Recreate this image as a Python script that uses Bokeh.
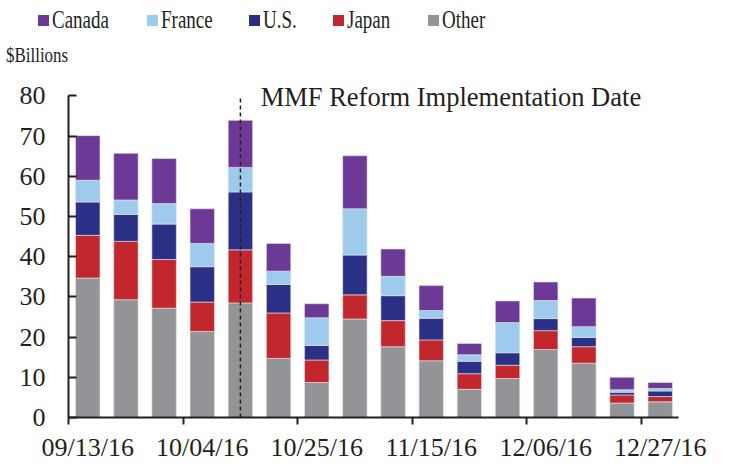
from bokeh.plotting import figure
from bokeh.models import (Range1d, FixedTicker, Label, ColumnDataSource, Div)
from bokeh.layouts import column
from bokeh.embed import file_html
from bokeh.resources import INLINE

dates = ["09/13/16", "09/20/16", "09/27/16", "10/04/16", "10/11/16", "10/18/16",
         "10/25/16", "11/01/16", "11/08/16", "11/15/16", "11/22/16", "11/29/16",
         "12/06/16", "12/13/16", "12/20/16", "12/27/16"]
other  = [34.7, 29.3, 27.2, 21.4, 28.5, 14.7, 8.7, 24.5, 17.6, 14.1, 7.0, 9.7, 16.9, 13.5, 3.6, 3.9]
japan  = [10.6, 14.5, 12.1, 7.3, 13.2, 11.3, 5.6, 6.0, 6.5, 5.2, 3.9, 3.3, 4.7, 4.1, 2.0, 1.3]
us     = [8.3, 6.7, 8.8, 8.8, 14.4, 7.1, 3.6, 9.9, 6.2, 5.4, 3.1, 3.1, 3.0, 2.3, 0.7, 1.4]
france = [5.4, 3.6, 5.1, 5.8, 6.1, 3.3, 6.9, 11.5, 4.8, 1.9, 1.6, 7.5, 4.5, 2.7, 0.6, 0.6]
canada = [11.1, 11.6, 11.2, 8.6, 11.7, 6.9, 3.5, 13.2, 6.8, 6.2, 2.8, 5.4, 4.6, 7.1, 3.1, 1.5]
series_names = ["Other", "Japan", "U.S.", "France", "Canada"]
colors = ["#929497", "#c1272d", "#2b3087", "#9ecbeb", "#6c3a96"]
y_ticks = [0, 10, 20, 30, 40, 50, 60, 70, 80]
label_every = 3
reform_index = 5
reform_text = "MMF Reform Implementation Date"
unit_text = "$Billions"

xs = list(range(1, len(dates) + 1))
src = ColumnDataSource(dict(x=xs, Other=other, Japan=japan, US=us, France=france, Canada=canada))

FONT = "Liberation Serif"
INK = "#231f20"
W = 729
HEAD_H = 66
MAIN_H = 464 - HEAD_H

# ---------- header: legend + unit label (HTML) ----------
legend_order = [4, 3, 2, 1, 0]
swatch_left = [37.7, 147, 249, 333, 428]
parts = [f'<div style="position:relative;width:{W}px;height:{HEAD_H}px;'
         f'font-family:\'{FONT}\';color:{INK};overflow:hidden;">']
for left, i in zip(swatch_left, legend_order):
    parts.append(f'<span style="position:absolute;left:{left}px;top:15px;width:11px;height:11px;'
                 f'background:{colors[i]};"></span>')
    parts.append(f'<span style="position:absolute;left:{left + 14}px;top:7.2px;font-size:26px;'
                 f'line-height:1;white-space:nowrap;transform:scaleX(0.73);'
                 f'transform-origin:0 50%;">{series_names[i]}</span>')
parts.append(f'<span style="position:absolute;left:6px;top:44.3px;font-size:22px;line-height:1;'
             f'white-space:nowrap;transform:scaleX(0.77);transform-origin:0 50%;">{unit_text}</span>')
parts.append('</div>')
head = Div(text="".join(parts), width=W, height=HEAD_H, margin=(0, 0, 0, 0))

# ---------- main chart ----------
p = figure(width=W, height=MAIN_H, output_backend="svg", toolbar_location=None,
           x_range=Range1d(0.495, 16.48), y_range=Range1d(0, 86.3),
           min_border_left=68, min_border_right=51, min_border_top=4, min_border_bottom=45,
           margin=(0, 0, 0, 0))
p.outline_line_color = None
p.xgrid.visible = False
p.ygrid.visible = False
p.background_fill_color = "white"
p.border_fill_color = "white"

rs = p.vbar_stack(["Other", "Japan", "US", "France", "Canada"], x="x", width=0.64,
                  color=colors, source=src, line_color="#e6e6e6", line_width=0.6)

p.segment(x0=[reform_index], y0=[0], x1=[reform_index], y1=[80], line_color=INK,
          line_width=1.5, line_dash="4 3")
p.add_layout(Label(x=5.53, y=79.6, text=reform_text, text_font=FONT, text_font_size="26.5px",
                   text_color=INK, text_baseline="alphabetic"))

ya = p.yaxis[0]
ya.ticker = FixedTicker(ticks=y_ticks)
ya.bounds = (0, 80)
ya.major_tick_in = 8
ya.major_tick_out = 0
ya.minor_tick_line_color = None
ya.major_label_standoff = 23
ya.major_label_text_font = FONT
ya.major_label_text_font_size = "26px"
ya.major_label_text_color = INK
ya.axis_line_color = INK
ya.axis_line_width = 2
ya.major_tick_line_color = INK
ya.major_tick_line_width = 2

xa = p.xaxis[0]
major = xs[::label_every]
xa.ticker = FixedTicker(ticks=major, minor_ticks=[m - 0.5 for m in major])
xa.major_label_overrides = {m: dates[m - 1] for m in major}
xa.major_tick_in = 0
xa.major_tick_out = 0
xa.minor_tick_in = 0
xa.minor_tick_out = 7
xa.minor_tick_line_color = INK
xa.minor_tick_line_width = 2
xa.major_label_standoff = 8
xa.major_label_text_font = FONT
xa.major_label_text_font_size = "26px"
xa.major_label_text_color = INK
xa.axis_line_color = INK
xa.axis_line_width = 2

layout = column(head, p, spacing=0)
open("out.html", "w").write(file_html(layout, INLINE))
